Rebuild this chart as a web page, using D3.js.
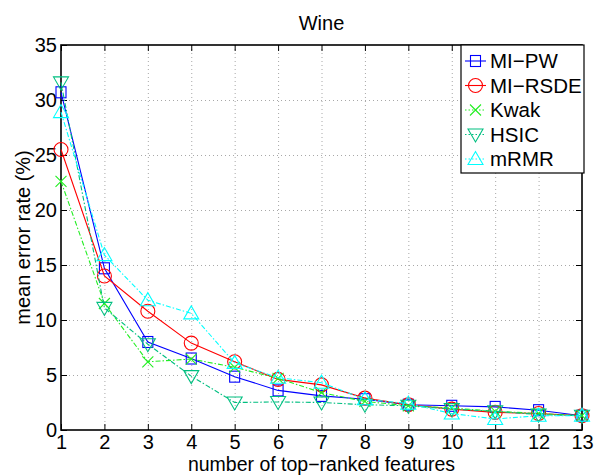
<!DOCTYPE html>
<html>
<head>
<meta charset="utf-8">
<script src="https://cdn.jsdelivr.net/npm/d3@7"></script>
<style>
  html, body { margin: 0; padding: 0; background: #fff; }
  svg { display: block; font-family: "Liberation Sans", Arial, Helvetica, sans-serif; }
</style>
</head>
<body>
<svg id="chart" width="595" height="475"></svg>
<script>
// Number of top-ranked features used
const features = [1, 2, 3, 4, 5, 6, 7, 8, 9, 10, 11, 12, 13];

// Mean error rate (%) per feature-selection method
const miPW   = [30.7, 14.7, 8.0, 6.5, 4.85, 3.6, 3.1, 2.8, 2.3, 2.2, 2.1, 1.8, 1.3];
const miRSDE = [25.5, 14.0, 10.8, 7.9, 6.2, 4.6, 4.1, 2.9, 2.3, 1.9, 1.6, 1.5, 1.3];
const kwak   = [22.6, 11.5, 6.2, 6.45, 5.7, 4.7, 3.4, 2.6, 2.2, 2.0, 1.7, 1.5, 1.3];
const hsic   = [31.6, 11.1, 7.8, 4.9, 2.5, 2.55, 2.5, 2.3, 2.2, 1.9, 1.7, 1.4, 1.3];
const mrmr   = [28.9, 15.9, 11.8, 10.6, 6.1, 4.75, 4.3, 2.8, 2.4, 1.5, 1.0, 1.3, 1.3];

const seriesNames = ["MI−PW", "MI−RSDE", "Kwak", "HSIC", "mRMR"];
const seriesValues = [miPW, miRSDE, kwak, hsic, mrmr];

const xTicks = [1, 2, 3, 4, 5, 6, 7, 8, 9, 10, 11, 12, 13];
const yTicks = [0, 5, 10, 15, 20, 25, 30, 35];

const styles = [
  { color: "#0000ff", dash: null,        marker: "square" },
  { color: "#ff0000", dash: null,        marker: "circle" },
  { color: "#22ee22", dash: "5,2,1.5,2", marker: "x" },
  { color: "#00bf80", dash: "5,2,1.5,2", marker: "down" },
  { color: "#00ffff", dash: "5,2,1.5,2", marker: "up" }
];

const svg = d3.select("#chart");
const L = 61, R = 582, T = 45, B = 430;

const x = d3.scaleLinear().domain([1, 13]).range([L, R]);
const y = d3.scaleLinear().domain([0, 35]).range([B, T]);

// Grid
const grid = svg.append("g").attr("stroke", "#a8a8a8").attr("stroke-width", 1).attr("stroke-dasharray", "1,3");
grid.selectAll("line.gx").data(xTicks.slice(1, -1)).join("line")
  .attr("x1", d => x(d) + 0.5).attr("x2", d => x(d) + 0.5).attr("y1", T).attr("y2", B);
grid.selectAll("line.gy").data(yTicks.slice(1, -1)).join("line")
  .attr("y1", d => y(d) + 0.5).attr("y2", d => y(d) + 0.5).attr("x1", L).attr("x2", R);

// Axes (ticks pointing inward, on all four sides)
const tickLen = 6;
const fontSize = 20;
const axB = svg.append("g").attr("transform", `translate(0,${B})`)
  .call(d3.axisBottom(x).tickValues(xTicks).tickSize(-tickLen).tickPadding(4.5).tickFormat(d3.format("d")));
const axT = svg.append("g").attr("transform", `translate(0,${T})`)
  .call(d3.axisTop(x).tickValues(xTicks).tickSize(-tickLen).tickFormat(""));
const axL = svg.append("g").attr("transform", `translate(${L},0)`)
  .call(d3.axisLeft(y).tickValues(yTicks).tickSize(-tickLen).tickPadding(4).tickFormat(d3.format("d")));
const axR = svg.append("g").attr("transform", `translate(${R},0)`)
  .call(d3.axisRight(y).tickValues(yTicks).tickSize(-tickLen).tickFormat(""));
[axB, axT, axL, axR].forEach(a => {
  a.select(".domain").remove();
  a.selectAll(".tick line").attr("stroke", "#000").attr("stroke-width", 1);
  a.selectAll("text").attr("fill", "#000").style("font-size", fontSize + "px")
    .style("font-family", '"Liberation Sans", Arial, sans-serif');
});

// Box
svg.append("rect").attr("x", L).attr("y", T).attr("width", R - L).attr("height", B - T)
  .attr("fill", "none").attr("stroke", "#000").attr("stroke-width", 1.6);

// Marker drawing
function drawMarker(g, type, cx, cy, color) {
  const s = g.append("g").attr("transform", `translate(${cx},${cy})`)
    .attr("fill", "none").attr("stroke", color).attr("stroke-width", 1.1);
  if (type === "square") {
    s.append("rect").attr("x", -5).attr("y", -5.5).attr("width", 10).attr("height", 11);
  } else if (type === "circle") {
    s.append("circle").attr("r", 7);
  } else if (type === "x") {
    s.append("path").attr("d", "M-5.5,-5.5L5.5,5.5M-5.5,5.5L5.5,-5.5");
  } else if (type === "down") {
    s.append("path").attr("d", "M-7.5,-5.5L7.5,-5.5L0,7.5Z");
  } else if (type === "up") {
    s.append("path").attr("d", "M-7.5,5.5L7.5,5.5L0,-7.5Z");
  }
}

// Series
const line = d3.line().x((d, i) => x(features[i])).y(d => y(d));
seriesValues.forEach((vals, k) => {
  const st = styles[k];
  const g = svg.append("g");
  g.append("path").datum(vals).attr("d", line)
    .attr("fill", "none").attr("stroke", st.color).attr("stroke-width", 1.1)
    .attr("stroke-dasharray", st.dash);
  vals.forEach((v, i) => drawMarker(g, st.marker, x(features[i]), y(v), st.color));
});

// Legend
const lg = svg.append("g");
lg.append("rect").attr("x", 461).attr("y", 45).attr("width", 123).attr("height", 128)
  .attr("fill", "#fff").attr("stroke", "#000").attr("stroke-width", 1.2);
seriesNames.forEach((name, k) => {
  const st = styles[k];
  const ly = 61 + k * 24.5;
  lg.append("line").attr("x1", 465).attr("x2", 486).attr("y1", ly).attr("y2", ly)
    .attr("stroke", st.color).attr("stroke-width", 1.1).attr("stroke-dasharray", st.dash ? "1.5,2" : null);
  drawMarker(lg, st.marker, 475.5, ly, st.color);
  lg.append("text").attr("x", 490).attr("y", ly + 7).text(name)
    .style("font-size", "20.5px").attr("fill", "#000");
});

// Title and axis labels
svg.append("text").attr("x", (L + R) / 2).attr("y", 30).attr("text-anchor", "middle")
  .style("font-size", "20px").text("Wine");
svg.append("text").attr("x", (L + R) / 2).attr("y", 470.8).attr("text-anchor", "middle")
  .style("font-size", "19.5px").text("number of top−ranked features");
svg.append("text").attr("transform", `translate(30,${(T + B) / 2}) rotate(-90)`)
  .attr("text-anchor", "middle").style("font-size", fontSize + "px").text("mean error rate (%)");
</script>
</body>
</html>
